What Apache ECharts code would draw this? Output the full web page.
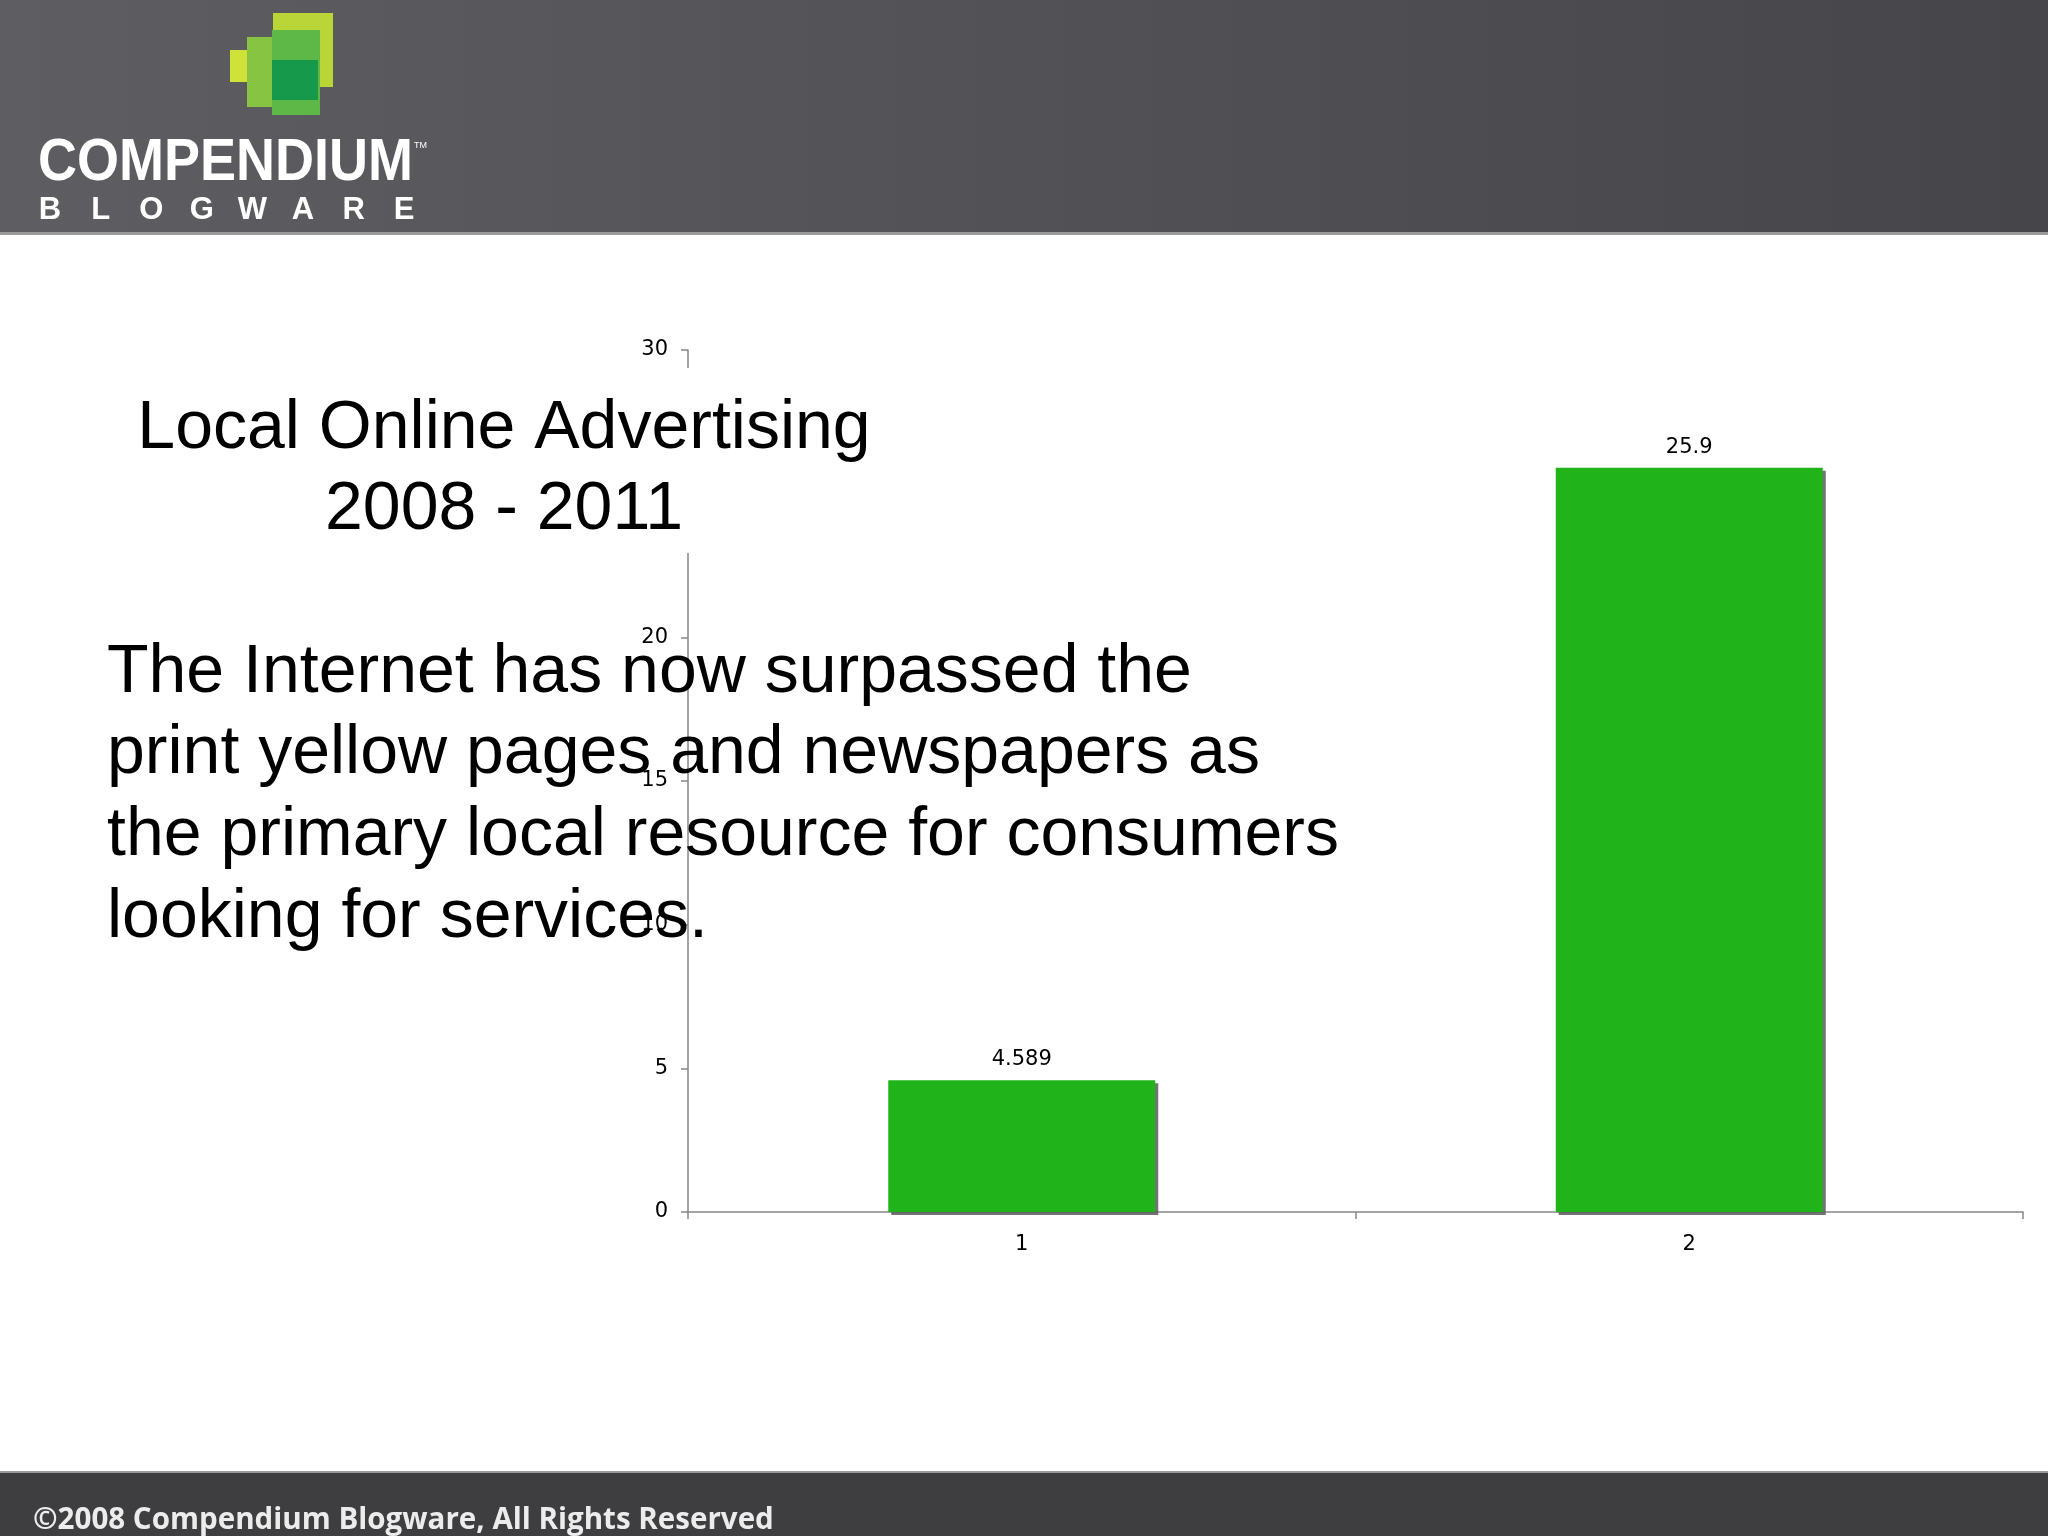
<!DOCTYPE html>
<html>
<head>
<meta charset="utf-8">
<script src="https://cdn.jsdelivr.net/npm/echarts@6/dist/echarts.min.js"></script>
<style>
html,body{margin:0;padding:0;background:#fff;}
#chart{width:2048px;height:1536px;}
</style>
</head>
<body>
<div id="chart"></div>
<script>
// ---- data ----
const categories = ['1', '2'];
const values = [4.589, 25.9];
const valueLabels = ['4.589', '25.9'];
const yMin = 0, yMax = 30, yInterval = 5;

// ---- texts ----
const titleLines = ['Local Online Advertising', '2008 - 2011'];
const bodyLines = [
  'The Internet has now surpassed the',
  'print yellow pages and newspapers as',
  'the primary local resource for consumers',
  'looking for services.'
];
const footerText = '\u00A92008 Compendium Blogware, All Rights Reserved';
const logoWord = 'COMPENDIUM';
const logoSub = 'BLOGWARE';

const chart = echarts.init(document.getElementById('chart'), null, {renderer: 'canvas'});

const graphics = [];
// header
graphics.push({type: 'rect', z: 100, shape: {x: 0, y: 0, width: 2048, height: 234},
  style: {fill: new echarts.graphic.LinearGradient(0, 0, 1, 0, [
    {offset: 0, color: '#5d5d62'}, {offset: 1, color: '#45454a'}])}});
graphics.push({type: 'rect', z: 100, shape: {x: 0, y: 232, width: 2048, height: 3}, style: {fill: '#9a9a9c'}});
// logo icon
const logoRects = [
  [273, 13, 60, 74, '#b9d537'],
  [230, 50, 18, 32, '#cfe23a'],
  [247, 37, 30, 70, '#86c441'],
  [272, 30, 48, 85, '#5db848'],
  [272, 60, 46, 40, '#16994a']
];
logoRects.forEach(r => graphics.push({type: 'rect', z: 101, shape: {x: r[0], y: r[1], width: r[2], height: r[3]}, style: {fill: r[4]}}));
graphics.push({type: 'text', z: 101, x: 38, y: 163, scaleX: 0.9, style: {x: 0, y: 0, text: logoWord, fill: '#ffffff',
  font: 'bold 60px "Liberation Sans", Arial, sans-serif', align: 'left', verticalAlign: 'middle'}});
graphics.push({type: 'text', z: 101, style: {x: 414, y: 141, text: 'TM', fill: '#ffffff',
  font: '9px "Liberation Sans", Arial, sans-serif', align: 'left', verticalAlign: 'top'}});
logoSub.split('').forEach((ch, i) => graphics.push({type: 'text', z: 101, style: {x: 50 + i * 50.6, y: 210, text: ch, fill: '#ffffff',
  font: 'bold 31px "Liberation Sans", Arial, sans-serif', align: 'center', verticalAlign: 'middle'}}));
// footer
graphics.push({type: 'rect', z: 100, shape: {x: 0, y: 1472, width: 2048, height: 64}, style: {fill: '#3e3e41'}});
graphics.push({type: 'rect', z: 100, shape: {x: 0, y: 1471, width: 2048, height: 2}, style: {fill: '#9a9a9c'}});
graphics.push({type: 'text', z: 101, x: 33, y: 1520, scaleX: 0.985, style: {x: 0, y: 0, text: footerText, fill: '#ececec',
  font: 'bold 30px "Open Sans", "Liberation Sans", sans-serif', align: 'left', verticalAlign: 'middle'}});
// title box (opaque white)
graphics.push({type: 'rect', z: 100, shape: {x: 120, y: 368, width: 770, height: 185}, style: {fill: '#ffffff'}});
titleLines.forEach((t, i) => graphics.push({type: 'text', z: 101, style: {x: 504, y: 429 + i * 81, text: t, fill: '#000000',
  font: '68px "Liberation Sans", Arial, sans-serif', align: 'center', verticalAlign: 'middle'}}));
// body text (transparent)
bodyLines.forEach((t, i) => graphics.push({type: 'text', z: 101, style: {x: 107, y: 673 + i * 81.7, text: t, fill: '#000000',
  font: '68px "Liberation Sans", Arial, sans-serif', align: 'left', verticalAlign: 'middle'}}));

const option = {
  animation: false,
  backgroundColor: '#ffffff',
  grid: {left: 688, top: 350, width: 1335, height: 862, containLabel: false},
  xAxis: {
    type: 'category',
    data: categories,
    axisLine: {show: true, lineStyle: {color: '#868686', width: 1.5}},
    axisTick: {show: true, length: 7, alignWithLabel: false, lineStyle: {color: '#868686', width: 1.5}},
    axisLabel: {color: '#000', fontSize: 21, fontFamily: '"DejaVu Sans", Verdana, sans-serif', margin: 22},
    splitLine: {show: false}
  },
  yAxis: {
    type: 'value',
    min: yMin, max: yMax, interval: yInterval,
    axisLine: {show: true, lineStyle: {color: '#868686', width: 1.5}},
    axisTick: {show: true, length: 7, lineStyle: {color: '#868686', width: 1.5}},
    axisLabel: {color: '#000', fontSize: 21, fontFamily: '"DejaVu Sans", Verdana, sans-serif', margin: 20},
    splitLine: {show: false}
  },
  series: [{
    type: 'bar',
    data: values,
    barWidth: '40%',
    itemStyle: {color: '#21b41a', shadowColor: 'rgba(90,90,90,0.85)', shadowOffsetX: 3, shadowOffsetY: 3, shadowBlur: 0},
    label: {show: true, position: 'top', distance: 10, color: '#000', fontSize: 21,
      fontFamily: '"DejaVu Sans", Verdana, sans-serif',
      formatter: p => valueLabels[p.dataIndex]}
  }],
  graphic: {elements: graphics}
};
chart.setOption(option);
</script>
</body>
</html>
